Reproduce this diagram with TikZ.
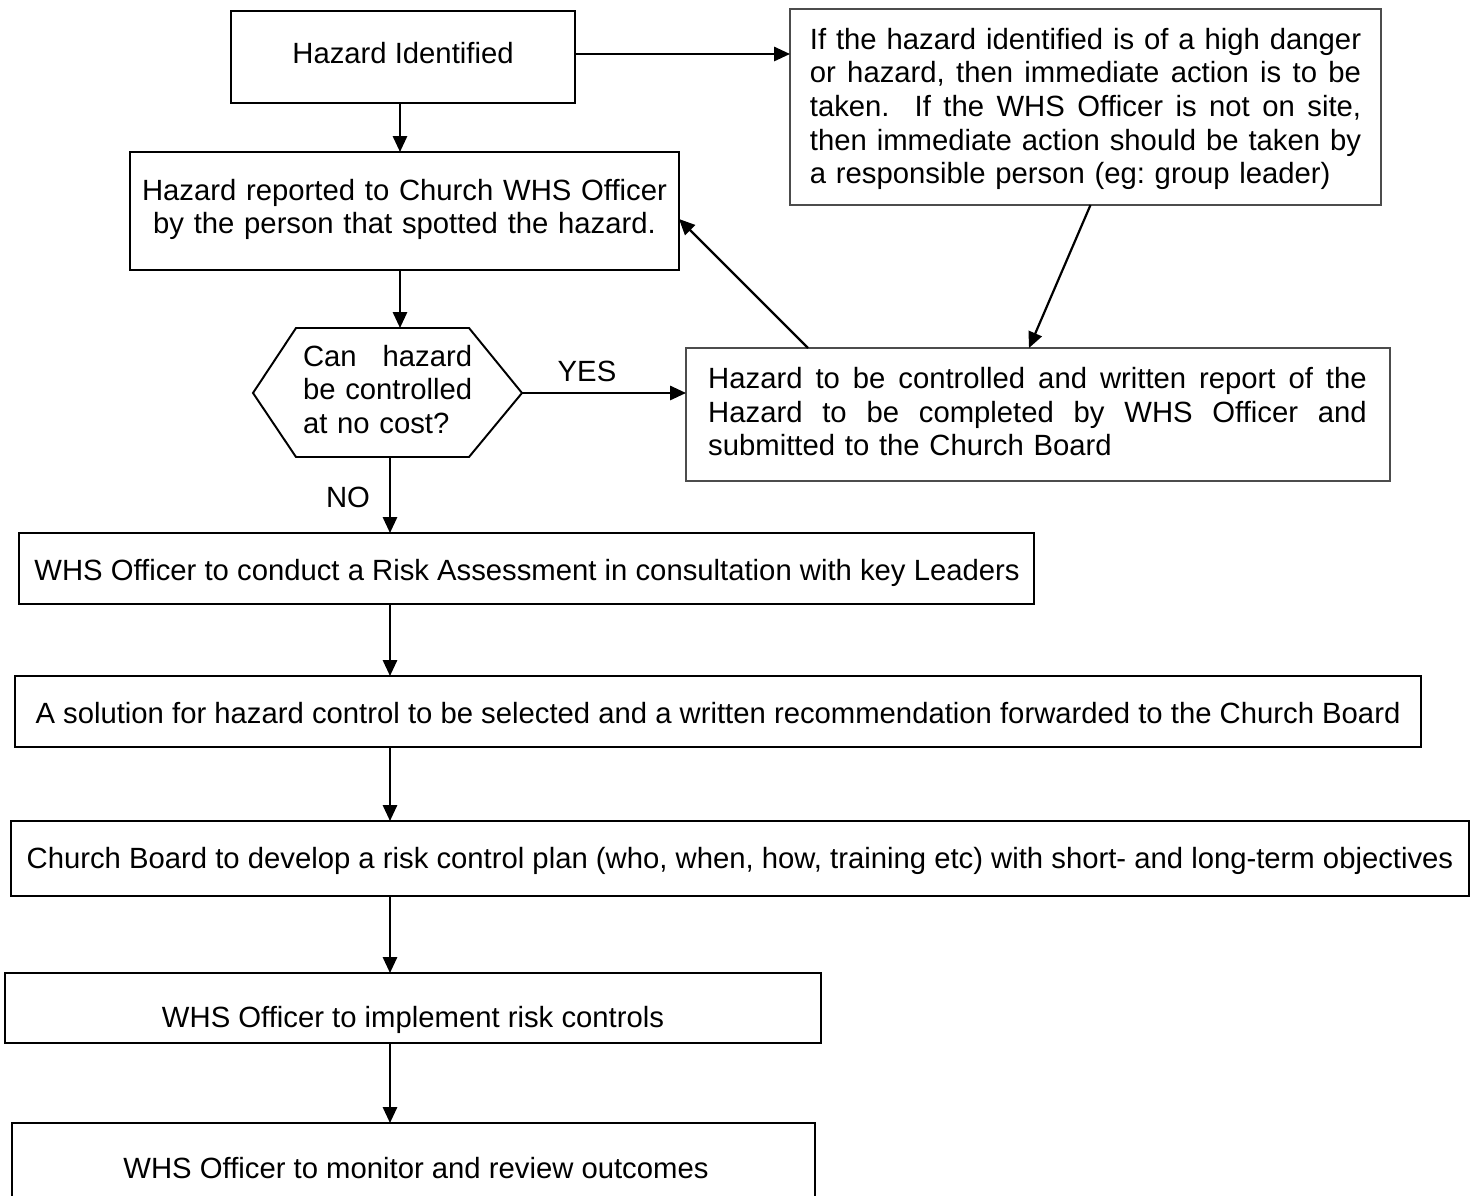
\documentclass[tikz,border=0pt]{standalone}
\usepackage{fontspec}
\setmainfont{Liberation Sans}
\usetikzlibrary{arrows.meta,calc}
\newlength\bcw
\newcommand\jline[2]{\leavevmode\hbox to #1{\spaceskip=0.278em plus 10em\relax\xspaceskip=\spaceskip #2}}
\begin{document}
\frenchspacing
\begin{tikzpicture}[x=0.41pt,y=-0.41pt,
  box/.style 2 args={draw=black, line width=0.8pt, minimum width=#1*0.41pt, minimum height=#2*0.41pt, inner sep=0pt, outer sep=0pt},
  gbox/.style 2 args={draw=black!70, line width=0.5pt, minimum width=#1*0.41pt, minimum height=#2*0.41pt, inner sep=0pt, outer sep=0pt},
  txt/.style={font=\fontsize{12}{13.8}\selectfont, inner sep=0pt, outer sep=0pt},
  arr/.style={line width=0.9pt, -{Triangle[length=6.5pt,width=5.8pt]}},
  hexline/.style={line width=0.8pt, line join=miter}
]
\clip (0,0) rectangle (1474,1196);
\fill[white] (0,0) rectangle (1474,1196);

% Hazard Identified
\node[box={344}{92}] (hz) at (403,57) {};
\node[txt, anchor=base] (hzt) at (403,64) {Hazard Identified};

% Top right note
\node[gbox={591}{196}] (tr) at (1085.5,107) {};
\node[txt, anchor=north, text width=226pt, align=left] (trt) at (1085.5,25.5)
 {\leavevmode\strut\jline{226pt}{If the hazard identified is of a high danger}\\
  \jline{226pt}{or hazard, then immediate action is to be}\\
  \jline{226pt}{taken.\ \ If the WHS Officer is not on site,}\\
  \jline{226pt}{then immediate action should be taken by}\\
  a responsible person (eg: group leader)};

% Hazard reported
\node[box={549}{118}] (b2) at (404.5,211) {};
\node[txt, anchor=north, text width=222pt, align=center] (b2t) at (404.5,176.5)
 {\leavevmode\strut Hazard reported to Church WHS Officer\\ by the person that spotted the hazard.};

% Hexagon decision
\coordinate (hTL) at (296,328);
\coordinate (hTR) at (469,328);
\coordinate (hR) at (522,393);
\coordinate (hBR) at (469,457);
\coordinate (hBL) at (296,457);
\coordinate (hL) at (253,393);
\coordinate (hT) at (400,328);
\coordinate (hB) at (390,457);
\draw[hexline] (hTL) -- (hTR) -- (hR) -- (hBR) -- (hBL) -- (hL) -- cycle;
\node[txt, anchor=north west, text width=90pt, align=left] (hext) at (303,342.5)
 {\settowidth{\bcw}{be controlled}\leavevmode\strut\jline{\bcw}{Can hazard}\\ \mbox{be controlled}\\ \mbox{at no cost?}};

% YES box
\node[gbox={704}{133}] (yes) at (1038,414.5) {};
\node[txt, anchor=north, text width=270pt, align=left] (yest) at (1037.5,365)
 {\leavevmode\strut\jline{270pt}{Hazard to be controlled and written report of the}\\
  \jline{270pt}{Hazard to be completed by WHS Officer and}\\
  submitted to the Church Board};

\node[txt, anchor=base] (yeslab) at (587,382) {YES};
\node[txt, anchor=base] (nolab) at (348,508) {NO};

% Main column boxes
\node[box={1015}{71}] (ra) at (526.5,568.5) {};
\node[txt, anchor=base] (rat) at (527,581) {WHS Officer to conduct a Risk Assessment in consultation with key Leaders};

\node[box={1406}{71}] (sol) at (718,711.5) {};
\node[txt, anchor=base] (solt) at (718,723) {A solution for hazard control to be selected and a written recommendation forwarded to the Church Board};

\node[box={1458}{75}] (cb) at (740,858.5) {};
\node[txt, anchor=base] (cbt) at (740,868) {Church Board to develop a risk control plan (who, when, how, training etc) with short- and long-term objectives};

\node[box={816}{70}] (imp) at (413,1008) {};
\node[txt, anchor=base] (impt) at (413,1027) {WHS Officer to implement risk controls};

\node[box={803}{114}] (mon) at (413.5,1180) {};
\node[txt, anchor=base] (mont) at (416,1178) {WHS Officer to monitor and review outcomes};

% Connectors
\draw[arr] ($(hz.south)+(-3,0)$) -- ($(hz.south |- b2.north)+(-3,0)$);
\draw[arr] ($(hz.east)+(0,-3)$) -- ($(hz.east -| tr.west)+(0,-3)$);
\draw[arr] (b2.south -| hT) -- (hT);
\draw[arr] (hR) -- (hR -| yes.west);
\draw[arr] (hB) -- (hB |- ra.north);
\draw[arr] ($(tr.south)+(5,0)$) -- ($(yes.north)+(-9,0)$);
\draw[arr] ($(yes.north west)+(122,0)$) -- ($(b2.east)+(0,8)$);
\draw[arr] (ra.south -| hB) -- (sol.north -| hB);
\draw[arr] (sol.south -| hB) -- (cb.north -| hB);
\draw[arr] (cb.south -| hB) -- (imp.north -| hB);
\draw[arr] (imp.south -| hB) -- (mon.north -| hB);
\end{tikzpicture}
\end{document}
